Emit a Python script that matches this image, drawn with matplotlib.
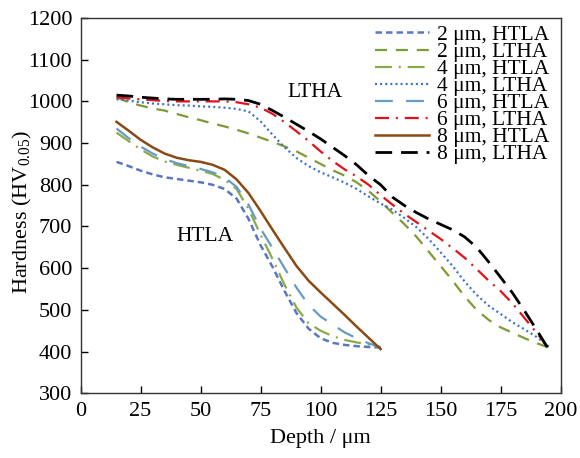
import matplotlib
matplotlib.use("Agg")
import matplotlib.pyplot as plt

plt.rcParams['font.family'] = ['Liberation Serif', 'DejaVu Serif']
plt.rcParams['mathtext.fontset'] = 'custom'
plt.rcParams['mathtext.rm'] = 'Liberation Serif'
plt.rcParams['mathtext.it'] = 'Liberation Serif:italic'

# ---- data ----
depth_htla = [15, 20, 25, 30, 35, 40, 45, 50, 55, 60, 65, 70, 75, 80, 85, 90, 95, 100, 105, 110, 115, 120, 125]
depth_ltha = [15, 20, 25, 30, 35, 40, 45, 50, 55, 60, 65, 70, 75, 80, 85, 90, 95, 100, 105, 110, 115, 120, 125,
              130, 135, 140, 145, 150, 155, 160, 165, 170, 175, 180, 185, 190, 195]

htla_2um = [855, 845, 834, 825, 818, 814, 810, 806, 800, 790, 767, 718, 655, 603, 545, 492, 455, 432, 421, 416, 413, 411, 410]
htla_4um = [925, 905, 885, 868, 856, 848, 841, 834, 826, 812, 790, 742, 680, 622, 560, 505, 468, 450, 437, 428, 422, 417, 411]
htla_6um = [935, 912, 892, 875, 862, 852, 845, 838, 830, 818, 795, 752, 695, 648, 600, 553, 512, 484, 465, 446, 432, 420, 410]
htla_8um = [951, 930, 908, 890, 875, 865, 859, 855, 848, 836, 813, 780, 737, 692, 648, 605, 570, 542, 515, 488, 460, 433, 406]

ltha_2um = [1010, 998, 990, 983, 978, 970, 962, 955, 947, 940, 932, 923, 913, 903, 892, 880, 865, 850, 835, 822, 806, 785, 760,
            732, 705, 675, 640, 605, 570, 532, 500, 476, 458, 445, 432, 420, 410]
ltha_4um = [1005, 1002, 998, 995, 993, 991, 990, 988, 987, 985, 982, 976, 952, 920, 890, 864, 845, 830, 818, 805, 790, 772, 755,
            740, 720, 698, 670, 638, 605, 568, 536, 510, 490, 470, 453, 435, 412]
ltha_6um = [1010, 1007, 1005, 1003, 1001, 1000, 1000, 1000, 1000, 1000, 998, 993, 985, 970, 950, 928, 905, 880, 857, 837, 820, 800, 775,
            752, 730, 710, 690, 670, 648, 625, 598, 570, 545, 515, 480, 445, 408]
ltha_8um = [1015, 1013, 1010, 1008, 1006, 1005, 1005, 1005, 1005, 1006, 1005, 1002, 993, 978, 962, 945, 928, 910, 890, 870, 848, 822, 800,
            770, 750, 733, 718, 705, 692, 675, 650, 615, 578, 540, 497, 452, 405]

labels = ['2 μm, HTLA', '2 μm, LTHA', '4 μm, HTLA', '4 μm, LTHA',
          '6 μm, HTLA', '6 μm, LTHA', '8 μm, HTLA', '8 μm, LTHA']
xticks = [0, 25, 50, 75, 100, 125, 150, 175, 200]
yticks = [300, 400, 500, 600, 700, 800, 900, 1000, 1100, 1200]

# ---- figure ----
fig = plt.figure(figsize=(5.8, 4.58), dpi=100)
ax = fig.add_axes([0.1388, 0.1413, 0.8279, 0.8194])

series = [
    (depth_htla, htla_2um, dict(color='#5A77C2', lw=1.8, dashes=[2.6, 1.6])),
    (depth_ltha, ltha_2um, dict(color='#7F9A35', lw=1.6, dashes=[5.4, 4.0])),
    (depth_htla, htla_4um, dict(color='#8AAA4A', lw=1.6, dashes=[7.6, 3.1, 0.9, 3.1])),
    (depth_ltha, ltha_4um, dict(color='#3A72D0', lw=1.6, dashes=[0.9, 1.4])),
    (depth_htla, htla_6um, dict(color='#659CC5', lw=1.6, dashes=[8.0, 6.0])),
    (depth_ltha, ltha_6um, dict(color='#E3111B', lw=1.6, dashes=[6.3, 3.1, 0.9, 3.1])),
    (depth_htla, htla_8um, dict(color='#8B4A14', lw=1.8, linestyle='-')),
    (depth_ltha, ltha_8um, dict(color='#000000', lw=2.0, dashes=[6.0, 3.2])),
]
for (x, y, st), lab in zip(series, labels):
    ax.plot(x, y, label=lab, solid_joinstyle='round', dash_joinstyle='round', **st)

ax.set_xlim(0, 200)
ax.set_ylim(300, 1200)
ax.set_xticks(xticks)
ax.set_yticks(yticks)
ax.tick_params(direction='in', length=5, width=1, labelsize=16, pad=6)
for s in ax.spines.values():
    s.set_linewidth(1.0)
    s.set_color('#333333')

ax.set_xlabel('Depth / μm', fontsize=16, labelpad=6)
ax.set_ylabel('Hardness (HV$_{0.05}$)', fontsize=16)
ax.yaxis.set_label_coords(-0.097, 0.484)

ax.text(97.7, 1022, 'LTHA', fontsize=15.5, ha='center', va='center')
ax.text(52, 677, 'HTLA', fontsize=15.5, ha='center', va='center')

leg = ax.legend(loc='upper right', bbox_to_anchor=(0.985, 0.993), frameon=False,
                fontsize=15.5, handlelength=2.5, handletextpad=0.35, labelspacing=-0.14,
                borderpad=0.2, borderaxespad=0)

fig.savefig('out.png', dpi=100)
